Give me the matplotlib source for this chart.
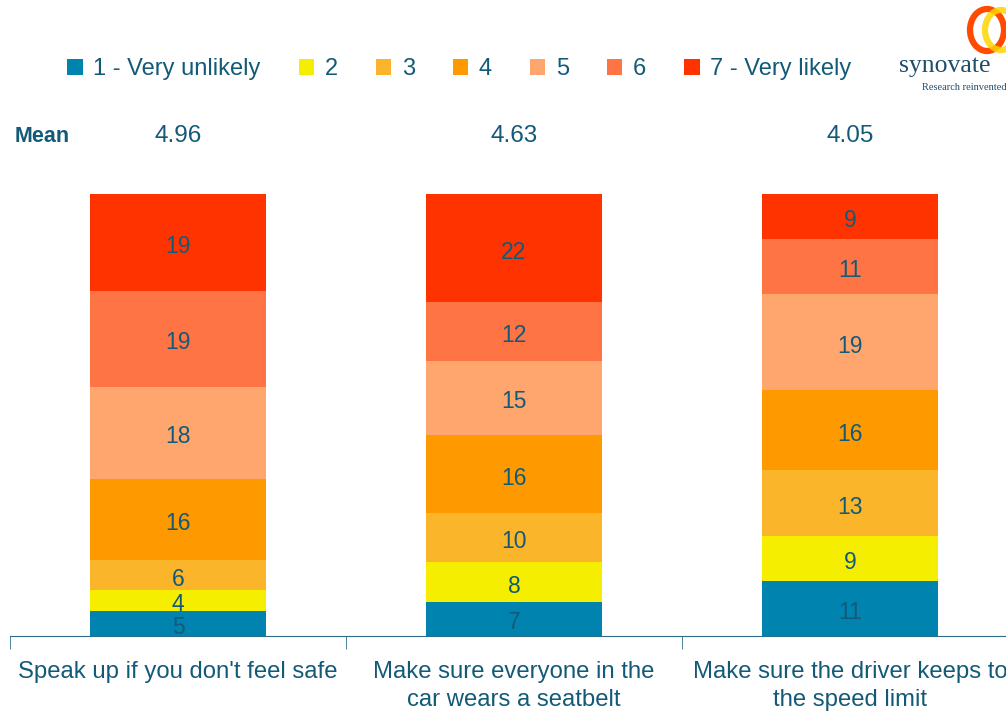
import numpy as np
import matplotlib
matplotlib.use("Agg")
import matplotlib.pyplot as plt
from matplotlib.patches import Patch, Ellipse
from matplotlib.transforms import blended_transform_factory

plt.rcParams['font.family'] = ['Liberation Sans', 'DejaVu Sans']

categories = ["Speak up if you don't feel safe",
              "Make sure everyone in the\ncar wears a seatbelt",
              "Make sure the driver keeps to\nthe speed limit"]
levels = ["1 - Very unlikely", "2", "3", "4", "5", "6", "7 - Very likely"]
means = ["4.96", "4.63", "4.05"]

# percent per level, bottom (1) to top (7)
lvl1 = [5, 7, 11]
lvl2 = [4, 8, 9]
lvl3 = [6, 10, 13]
lvl4 = [16, 16, 16]
lvl5 = [18, 15, 19]
lvl6 = [19, 12, 11]
lvl7 = [19, 22, 9]

colors = ["#0083ae", "#f5ee00", "#fbb52b", "#ff9900", "#ffa66e", "#ff7444", "#ff3300"]
txt = "#135a78"

data = np.array([lvl1, lvl2, lvl3, lvl4, lvl5, lvl6, lvl7], dtype=float)
share = data / data.sum(axis=0)  # bars are drawn as 100% stacks

fig = plt.figure(figsize=(10.06, 7.13), dpi=100)
ax = fig.add_axes([10 / 1006, 77 / 713, 1008 / 1006, 442 / 713])

x = np.arange(len(categories))
bottom = np.zeros(len(categories))
for i in range(len(levels)):
    bars = ax.bar(x, share[i], 0.524, bottom=bottom, color=colors[i], label=levels[i])
    ax.bar_label(bars, labels=[str(int(v)) for v in data[i]], label_type='center',
                 color=txt, fontsize=16.5, padding=-3)
    bottom += share[i]

ax.set_xlim(-0.5, 2.5)
ax.set_ylim(0, 1)
for s in ['top', 'right', 'left']:
    ax.spines[s].set_visible(False)
ax.spines['bottom'].set_color("#2f6c8a")
ax.set_yticks([])
ax.set_xticks(x)
ax.set_xticklabels(categories, fontsize=17.2, color=txt, linespacing=1.38)
ax.tick_params(axis='x', which='major', length=0, pad=18)
ax.set_xticks([-0.5, 0.5, 1.5, 2.5], minor=True)
ax.tick_params(axis='x', which='minor', length=9, color="#2f6c8a", direction='out')

# mean row
tr = blended_transform_factory(ax.transData, fig.transFigure)
fig.text(15 / 1006, 1 - 136 / 713, "Mean", fontsize=15.5, fontweight='bold', color=txt, va='center')
for i, m in enumerate(means):
    ax.text(x[i], 1 - 136 / 713, m, transform=tr, fontsize=17.5, color=txt,
            ha='center', va='center')

handles = [Patch(facecolor=c, edgecolor='none') for c in colors]
fig.legend(handles, levels, loc='center left', bbox_to_anchor=(46 / 1006, 1 - 69 / 713),
           ncol=7, frameon=False, fontsize=17, labelcolor=txt, handlelength=0.65,
           handleheight=0.65, handletextpad=0.45, columnspacing=1.61)

# synovate logo
fig.patches.append(Ellipse((987 / 1006, 1 - 30 / 713), 34 / 1006, 42 / 713,
                           transform=fig.transFigure, fill=False, lw=4.5, edgecolor="#ff4a00"))
fig.patches.append(Ellipse((1001 / 1006, 1 - 30 / 713), 32 / 1006, 40 / 713,
                           transform=fig.transFigure, fill=False, lw=4.5,
                           edgecolor="#ffd400", alpha=0.85))
fig.text(899 / 1006, 1 - 66 / 713, "synovate", fontsize=18.5, family='Liberation Serif',
         color="#1f4e6a", va='center')
fig.text(922 / 1006, 1 - 88 / 713, "Research reinvented", fontsize=7.5,
         family='Liberation Serif', color="#1f4e6a", va='center')

fig.savefig("out.png", dpi=100)
